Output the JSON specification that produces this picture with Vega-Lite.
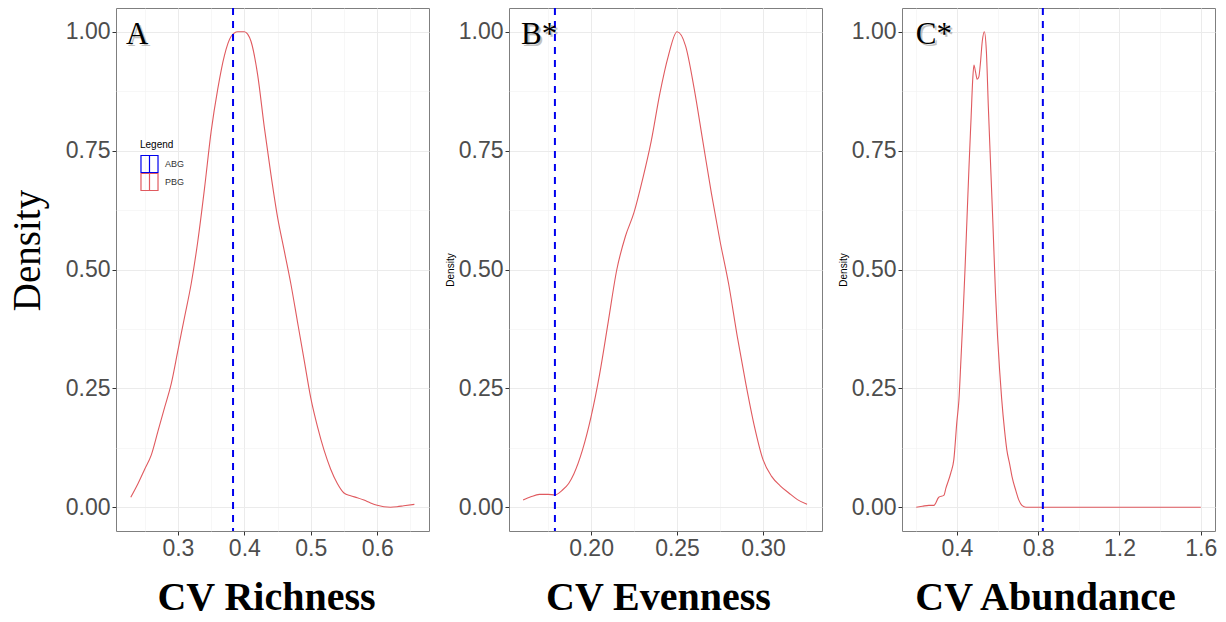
{
  "$schema": "https://vega.github.io/schema/vega-lite/v6.json",
  "padding": {"left": 7, "top": 6, "right": 0, "bottom": 0},
  "background": "white",
  "datasets": {
    "richness": [
      {"x": 0.229, "density": 0.021}, {"x": 0.24, "density": 0.05}, {"x": 0.25, "density": 0.08},
      {"x": 0.26, "density": 0.11}, {"x": 0.27, "density": 0.16}, {"x": 0.28, "density": 0.21},
      {"x": 0.29, "density": 0.26}, {"x": 0.30, "density": 0.33}, {"x": 0.31, "density": 0.40},
      {"x": 0.32, "density": 0.47}, {"x": 0.33, "density": 0.56}, {"x": 0.34, "density": 0.67},
      {"x": 0.35, "density": 0.79}, {"x": 0.36, "density": 0.88}, {"x": 0.37, "density": 0.95},
      {"x": 0.38, "density": 0.99}, {"x": 0.39, "density": 1.0}, {"x": 0.40, "density": 1.0},
      {"x": 0.405, "density": 0.995}, {"x": 0.41, "density": 0.98}, {"x": 0.42, "density": 0.91},
      {"x": 0.43, "density": 0.80}, {"x": 0.44, "density": 0.70}, {"x": 0.45, "density": 0.61},
      {"x": 0.46, "density": 0.54}, {"x": 0.47, "density": 0.47}, {"x": 0.48, "density": 0.39},
      {"x": 0.49, "density": 0.31}, {"x": 0.50, "density": 0.23}, {"x": 0.51, "density": 0.17},
      {"x": 0.52, "density": 0.12}, {"x": 0.53, "density": 0.08}, {"x": 0.54, "density": 0.05},
      {"x": 0.55, "density": 0.03}, {"x": 0.56, "density": 0.024}, {"x": 0.57, "density": 0.02},
      {"x": 0.58, "density": 0.015}, {"x": 0.59, "density": 0.009}, {"x": 0.60, "density": 0.004},
      {"x": 0.61, "density": 0.001}, {"x": 0.62, "density": 0.0}, {"x": 0.63, "density": 0.001},
      {"x": 0.64, "density": 0.003}, {"x": 0.656, "density": 0.006}
    ],
    "evenness": [
      {"x": 0.1605, "density": 0.015}, {"x": 0.165, "density": 0.022}, {"x": 0.17, "density": 0.027},
      {"x": 0.175, "density": 0.027}, {"x": 0.179, "density": 0.026}, {"x": 0.183, "density": 0.035},
      {"x": 0.187, "density": 0.05}, {"x": 0.19, "density": 0.07}, {"x": 0.195, "density": 0.12},
      {"x": 0.20, "density": 0.19}, {"x": 0.205, "density": 0.28}, {"x": 0.21, "density": 0.39},
      {"x": 0.215, "density": 0.50}, {"x": 0.22, "density": 0.57}, {"x": 0.225, "density": 0.62},
      {"x": 0.23, "density": 0.69}, {"x": 0.235, "density": 0.77}, {"x": 0.24, "density": 0.87},
      {"x": 0.245, "density": 0.95}, {"x": 0.25, "density": 1.0}, {"x": 0.255, "density": 0.97},
      {"x": 0.26, "density": 0.88}, {"x": 0.265, "density": 0.77}, {"x": 0.27, "density": 0.66},
      {"x": 0.275, "density": 0.56}, {"x": 0.28, "density": 0.47}, {"x": 0.285, "density": 0.36},
      {"x": 0.29, "density": 0.26}, {"x": 0.295, "density": 0.17}, {"x": 0.30, "density": 0.10},
      {"x": 0.305, "density": 0.065}, {"x": 0.31, "density": 0.045}, {"x": 0.315, "density": 0.03},
      {"x": 0.32, "density": 0.016}, {"x": 0.3256, "density": 0.006}
    ],
    "abundance": [
      {"x": 0.2, "density": 0.0}, {"x": 0.23, "density": 0.002}, {"x": 0.262, "density": 0.004},
      {"x": 0.287, "density": 0.004}, {"x": 0.311, "density": 0.021}, {"x": 0.336, "density": 0.025},
      {"x": 0.346, "density": 0.04}, {"x": 0.37, "density": 0.072}, {"x": 0.385, "density": 0.1},
      {"x": 0.40, "density": 0.18}, {"x": 0.41, "density": 0.225}, {"x": 0.42, "density": 0.31},
      {"x": 0.43, "density": 0.40}, {"x": 0.44, "density": 0.50}, {"x": 0.45, "density": 0.61},
      {"x": 0.46, "density": 0.72}, {"x": 0.47, "density": 0.82}, {"x": 0.478, "density": 0.90},
      {"x": 0.484, "density": 0.93}, {"x": 0.492, "density": 0.915}, {"x": 0.50, "density": 0.90},
      {"x": 0.508, "density": 0.905}, {"x": 0.515, "density": 0.93}, {"x": 0.525, "density": 0.98},
      {"x": 0.535, "density": 1.0}, {"x": 0.545, "density": 0.96}, {"x": 0.555, "density": 0.84},
      {"x": 0.565, "density": 0.73}, {"x": 0.577, "density": 0.60}, {"x": 0.59, "density": 0.45},
      {"x": 0.60, "density": 0.36}, {"x": 0.61, "density": 0.29}, {"x": 0.62, "density": 0.23},
      {"x": 0.635, "density": 0.16}, {"x": 0.646, "density": 0.12}, {"x": 0.66, "density": 0.09},
      {"x": 0.671, "density": 0.065}, {"x": 0.69, "density": 0.035}, {"x": 0.705, "density": 0.015},
      {"x": 0.72, "density": 0.004}, {"x": 0.74, "density": 0.0}, {"x": 0.9, "density": 0.0},
      {"x": 1.2, "density": 0.0}, {"x": 1.6, "density": 0.0}
    ]
  },
  "hconcat": [
    {
      "width": 313, "height": 523,
      "data": {"name": "richness"},
      "layer": [
        {
          "mark": {"type": "line", "strokeOpacity": 0},
          "encoding": {
            "x": {"field": "x", "type": "quantitative", "scale": {"domain": [0.2068, 0.678], "nice": false, "zero": false},
                  "axis": {"orient": "top", "values": [0.25, 0.35, 0.45, 0.55, 0.65], "labels": false, "ticks": false, "domain": false, "grid": true, "gridColor": "#f2f2f2", "gridWidth": 0.6, "title": null}},
            "y": {"field": "density", "type": "quantitative", "scale": {"domain": [-0.05, 1.05], "nice": false, "zero": false},
                  "axis": {"orient": "right", "values": [0.125, 0.375, 0.625, 0.875], "labels": false, "ticks": false, "domain": false, "grid": true, "gridColor": "#f2f2f2", "gridWidth": 0.6, "title": null}}
          }
        },
        {
          "mark": {"type": "line", "strokeWidth": 1.1, "interpolate": "monotone"},
          "encoding": {
            "x": {"field": "x", "type": "quantitative",
                  "axis": {"orient": "bottom", "values": [0.3, 0.4, 0.5, 0.6], "format": ".1f", "grid": true, "title": "CV Richness", "titleFont": "Liberation Serif", "titleFontSize": 40, "titleFontWeight": "bold", "titlePadding": 17, "titleX": 150}},
            "y": {"field": "density", "type": "quantitative",
                  "axis": {"orient": "left", "values": [0, 0.25, 0.5, 0.75, 1], "format": ".2f", "grid": true, "title": "Density", "titleFont": "Liberation Serif", "titleFontSize": 39, "titleFontWeight": "normal", "titlePadding": 18, "titleY": 242}},
            "color": {"datum": "PBG", "type": "nominal",
                      "scale": {"domain": ["ABG", "PBG"], "range": ["#0000ee", "#e05a5f"]},
                      "legend": {"orient": "none", "legendX": 24, "legendY": 132, "title": "Legend", "padding": 0,
                                 "symbolType": "M-1,-1H1V1H-1Z M0,-1V1", "symbolSize": 290, "symbolStrokeWidth": 1.2,
                                 "symbolFillColor": "transparent", "rowPadding": 0, "clipHeight": 18, "labelOffset": 6,
                                 "labelFont": "Liberation Sans", "labelFontSize": 9, "labelColor": "#333333",
                                 "titleFont": "Liberation Sans", "titleFontSize": 10, "titleFontWeight": "normal", "titleColor": "#000000", "titlePadding": 5}}
          }
        },
        {
          "data": {"values": [{"value": 0.383}]},
          "mark": {"type": "rule", "strokeDash": [7, 6], "strokeWidth": 2},
          "encoding": {
            "x": {"field": "value", "type": "quantitative", "axis": null},
            "color": {"datum": "ABG", "type": "nominal"}
          }
        },
        {
          "data": {"values": [{"label": "A"}]},
          "mark": {"type": "text", "font": "Liberation Serif", "fontSize": 31, "align": "left", "baseline": "alphabetic", "color": "#9a9a9a", "opacity": 0.6, "dx": 2, "dy": 2},
          "encoding": {"x": {"datum": 0.2218, "axis": null}, "y": {"datum": 0.975, "axis": null}, "text": {"field": "label"}}
        },
        {
          "data": {"values": [{"label": "A"}]},
          "mark": {"type": "text", "font": "Liberation Serif", "fontSize": 31, "align": "left", "baseline": "alphabetic", "color": "#000000"},
          "encoding": {"x": {"datum": 0.2218, "axis": null}, "y": {"datum": 0.975, "axis": null}, "text": {"field": "label"}}
        }
      ],
      "resolve": {"axis": {"x": "independent", "y": "independent"}}
    },
    {
      "width": 313, "height": 523,
      "data": {"name": "evenness"},
      "layer": [
        {
          "mark": {"type": "line", "strokeOpacity": 0},
          "encoding": {
            "x": {"field": "x", "type": "quantitative", "scale": {"domain": [0.1523, 0.3343], "nice": false, "zero": false},
                  "axis": {"orient": "top", "values": [0.175, 0.225, 0.275, 0.325], "labels": false, "ticks": false, "domain": false, "grid": true, "gridColor": "#f2f2f2", "gridWidth": 0.6, "title": null}},
            "y": {"field": "density", "type": "quantitative", "scale": {"domain": [-0.05, 1.05], "nice": false, "zero": false},
                  "axis": {"orient": "right", "values": [0.125, 0.375, 0.625, 0.875], "labels": false, "ticks": false, "domain": false, "grid": true, "gridColor": "#f2f2f2", "gridWidth": 0.6, "title": null}}
          }
        },
        {
          "mark": {"type": "line", "strokeWidth": 1.1, "color": "#e05a5f", "interpolate": "monotone"},
          "encoding": {
            "x": {"field": "x", "type": "quantitative",
                  "axis": {"orient": "bottom", "values": [0.2, 0.25, 0.3], "format": ".2f", "grid": true, "title": "CV Evenness", "titleFont": "Liberation Serif", "titleFontSize": 40, "titleFontWeight": "bold", "titlePadding": 17, "titleX": 149}},
            "y": {"field": "density", "type": "quantitative",
                  "axis": {"orient": "left", "values": [0, 0.25, 0.5, 0.75, 1], "format": ".2f", "grid": true, "title": "Density", "titleFont": "Liberation Sans", "titleFontSize": 10, "titleFontWeight": "normal", "titlePadding": 3}}
          }
        },
        {
          "data": {"values": [{"value": 0.179}]},
          "mark": {"type": "rule", "strokeDash": [7, 6], "strokeWidth": 2, "color": "#0000ee"},
          "encoding": {"x": {"field": "value", "type": "quantitative", "axis": null}}
        },
        {
          "data": {"values": [{"label": "B*"}]},
          "mark": {"type": "text", "font": "Liberation Serif", "fontSize": 31, "align": "left", "baseline": "alphabetic", "color": "#9a9a9a", "opacity": 0.6, "dx": 2, "dy": 2},
          "encoding": {"x": {"datum": 0.1593, "axis": null}, "y": {"datum": 0.975, "axis": null}, "text": {"field": "label"}}
        },
        {
          "data": {"values": [{"label": "B*"}]},
          "mark": {"type": "text", "font": "Liberation Serif", "fontSize": 31, "align": "left", "baseline": "alphabetic", "color": "#000000"},
          "encoding": {"x": {"datum": 0.1593, "axis": null}, "y": {"datum": 0.975, "axis": null}, "text": {"field": "label"}}
        }
      ],
      "resolve": {"axis": {"x": "independent", "y": "independent"}}
    },
    {
      "width": 313, "height": 523,
      "data": {"name": "abundance"},
      "layer": [
        {
          "mark": {"type": "line", "strokeOpacity": 0},
          "encoding": {
            "x": {"field": "x", "type": "quantitative", "scale": {"domain": [0.13, 1.67], "nice": false, "zero": false},
                  "axis": {"orient": "top", "values": [0.2, 0.6, 1.0, 1.4], "labels": false, "ticks": false, "domain": false, "grid": true, "gridColor": "#f2f2f2", "gridWidth": 0.6, "title": null}},
            "y": {"field": "density", "type": "quantitative", "scale": {"domain": [-0.05, 1.05], "nice": false, "zero": false},
                  "axis": {"orient": "right", "values": [0.125, 0.375, 0.625, 0.875], "labels": false, "ticks": false, "domain": false, "grid": true, "gridColor": "#f2f2f2", "gridWidth": 0.6, "title": null}}
          }
        },
        {
          "mark": {"type": "line", "strokeWidth": 1.1, "color": "#e05a5f", "interpolate": "monotone"},
          "encoding": {
            "x": {"field": "x", "type": "quantitative",
                  "axis": {"orient": "bottom", "values": [0.4, 0.8, 1.2, 1.6], "format": ".1f", "grid": true, "title": "CV Abundance", "titleFont": "Liberation Serif", "titleFontSize": 40, "titleFontWeight": "bold", "titlePadding": 17, "titleX": 143}},
            "y": {"field": "density", "type": "quantitative",
                  "axis": {"orient": "left", "values": [0, 0.25, 0.5, 0.75, 1], "format": ".2f", "grid": true, "title": "Density", "titleFont": "Liberation Sans", "titleFontSize": 10, "titleFontWeight": "normal", "titlePadding": 3}}
          }
        },
        {
          "data": {"values": [{"value": 0.823}]},
          "mark": {"type": "rule", "strokeDash": [7, 6], "strokeWidth": 2, "color": "#0000ee"},
          "encoding": {"x": {"field": "value", "type": "quantitative", "axis": null}}
        },
        {
          "data": {"values": [{"label": "C*"}]},
          "mark": {"type": "text", "font": "Liberation Serif", "fontSize": 31, "align": "left", "baseline": "alphabetic", "color": "#9a9a9a", "opacity": 0.6, "dx": 2, "dy": 2},
          "encoding": {"x": {"datum": 0.198, "axis": null}, "y": {"datum": 0.975, "axis": null}, "text": {"field": "label"}}
        },
        {
          "data": {"values": [{"label": "C*"}]},
          "mark": {"type": "text", "font": "Liberation Serif", "fontSize": 31, "align": "left", "baseline": "alphabetic", "color": "#000000"},
          "encoding": {"x": {"datum": 0.198, "axis": null}, "y": {"datum": 0.975, "axis": null}, "text": {"field": "label"}}
        }
      ],
      "resolve": {"axis": {"x": "independent", "y": "independent"}}
    }
  ],
  "spacing": 80,
  "bounds": "flush",
  "config": {
    "view": {"stroke": "#7f7f7f", "strokeWidth": 1},
    "axis": {"labelFont": "Liberation Sans", "labelFontSize": 23, "labelColor": "#4d4d4d", "tickColor": "#333333", "tickSize": 4, "labelPadding": 2, "domain": false, "gridColor": "#ebebeb", "gridWidth": 1, "titleColor": "#000000"}
  }
}
